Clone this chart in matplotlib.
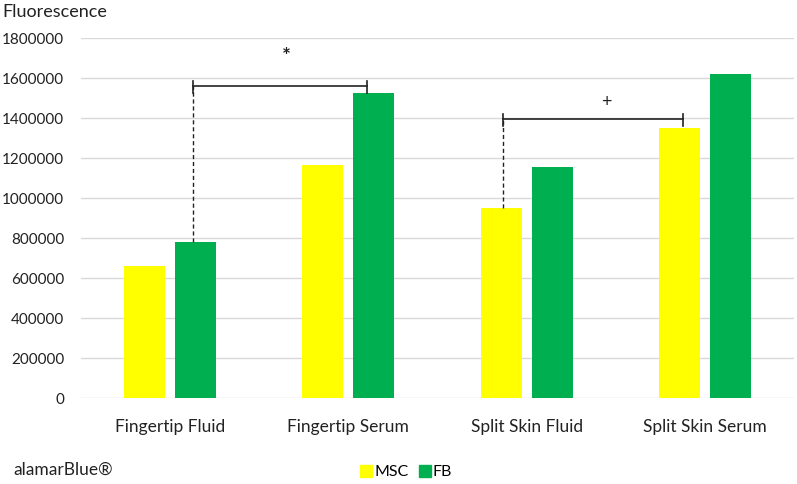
import matplotlib
matplotlib.use("Agg")
import matplotlib.pyplot as plt
from matplotlib.lines import Line2D
import numpy as np

categories = ["Fingertip Fluid", "Fingertip Serum", "Split Skin Fluid", "Split Skin Serum"]
msc = [660000, 1166000, 950000, 1352000]
fb = [780000, 1526000, 1153000, 1619000]
series_names = ["MSC", "FB"]
yticks = [0, 200000, 400000, 600000, 800000, 1000000, 1200000, 1400000, 1600000, 1800000]

YELLOW = "#FFFF00"
GREEN = "#00B050"
FONT = "Lato"

fig = plt.figure(figsize=(7.97, 4.84), dpi=100)
ax = fig.add_axes([81/797, (484-398)/484, (794-81)/797, (398-38)/484])

x = np.arange(len(categories))
w = 0.23
off = 0.143
ax.bar(x - off, msc, w, color=YELLOW, zorder=3)
ax.bar(x + off, fb, w, color=GREEN, zorder=3)

ax.set_xlim(-0.5, len(categories) - 0.5)
ax.set_ylim(0, 1800000)
ax.set_yticks(yticks)
ax.set_yticklabels([str(v) for v in yticks], fontfamily=FONT, fontsize=11, color="#222222")
ax.set_xticks(x)
ax.set_xticklabels(categories, fontfamily=FONT, fontsize=12.5, color="#222222")
ax.tick_params(axis="both", length=0)
ax.tick_params(axis="x", pad=15)
ax.tick_params(axis="y", pad=12)
for s in ax.spines.values():
    s.set_visible(False)
ax.yaxis.grid(True, color="#d9d9d9", linewidth=1.0, zorder=0)
ax.set_axisbelow(True)

lc = "#222222"
# Bracket 1: Fingertip Fluid FB -> Fingertip Serum FB
b1_y = 1560000
b1_l = x[0] + off - 0.013
b1_r = x[1] + off - 0.039
ax.plot([b1_l, b1_r], [b1_y, b1_y], color=lc, lw=1.2, zorder=4)
ax.plot([b1_l, b1_l], [b1_y - 33000, b1_y + 27000], color=lc, lw=1.2, zorder=4)
ax.plot([b1_r, b1_r], [b1_y - 33000, b1_y + 27000], color=lc, lw=1.2, zorder=4)
ax.plot([b1_l, b1_l], [fb[0], b1_y], color=lc, lw=1.0, ls=(0, (3, 2)), zorder=4)
ax.text(0.654, 1705000, "*", ha="center", va="center", fontsize=15, fontfamily=FONT, color=lc, fontweight="bold")

# Bracket 2: Split Skin Fluid MSC -> Split Skin Serum MSC
b2_y = 1393000
b2_l = x[2] - off + 0.01
b2_r = x[3] - off + 0.022
ax.plot([b2_l, b2_r], [b2_y, b2_y], color=lc, lw=1.2, zorder=4)
ax.plot([b2_l, b2_l], [b2_y - 33000, b2_y + 28000], color=lc, lw=1.2, zorder=4)
ax.plot([b2_r, b2_r], [b2_y - 33000, b2_y + 28000], color=lc, lw=1.2, zorder=4)
ax.plot([b2_l, b2_l], [msc[2], b2_y], color=lc, lw=1.0, ls=(0, (3, 2)), zorder=4)
ax.text(2.449, 1481000, "+", ha="center", va="center", fontsize=13, fontfamily=FONT, color=lc)

fig.text(2/797, 1 - 12/484, "Fluorescence", ha="left", va="center", fontsize=13, fontfamily=FONT, color="#222222")
fig.text(13/797, 1 - 470/484, "alamarBlue®", ha="left", va="center", fontsize=12.5, fontfamily=FONT, color="#222222")

handles = [Line2D([0], [0], marker="s", ls="none", markersize=8, markerfacecolor=YELLOW, markeredgecolor=YELLOW),
           Line2D([0], [0], marker="s", ls="none", markersize=8, markerfacecolor=GREEN, markeredgecolor=GREEN)]
fig.legend(handles, series_names, loc="center", bbox_to_anchor=(406/797, 1 - 472/484), ncol=2, frameon=False,
           prop={"family": FONT, "size": 11.5}, handletextpad=0.1, columnspacing=0.6, handlelength=0.8)

fig.savefig("out.png", dpi=100)
